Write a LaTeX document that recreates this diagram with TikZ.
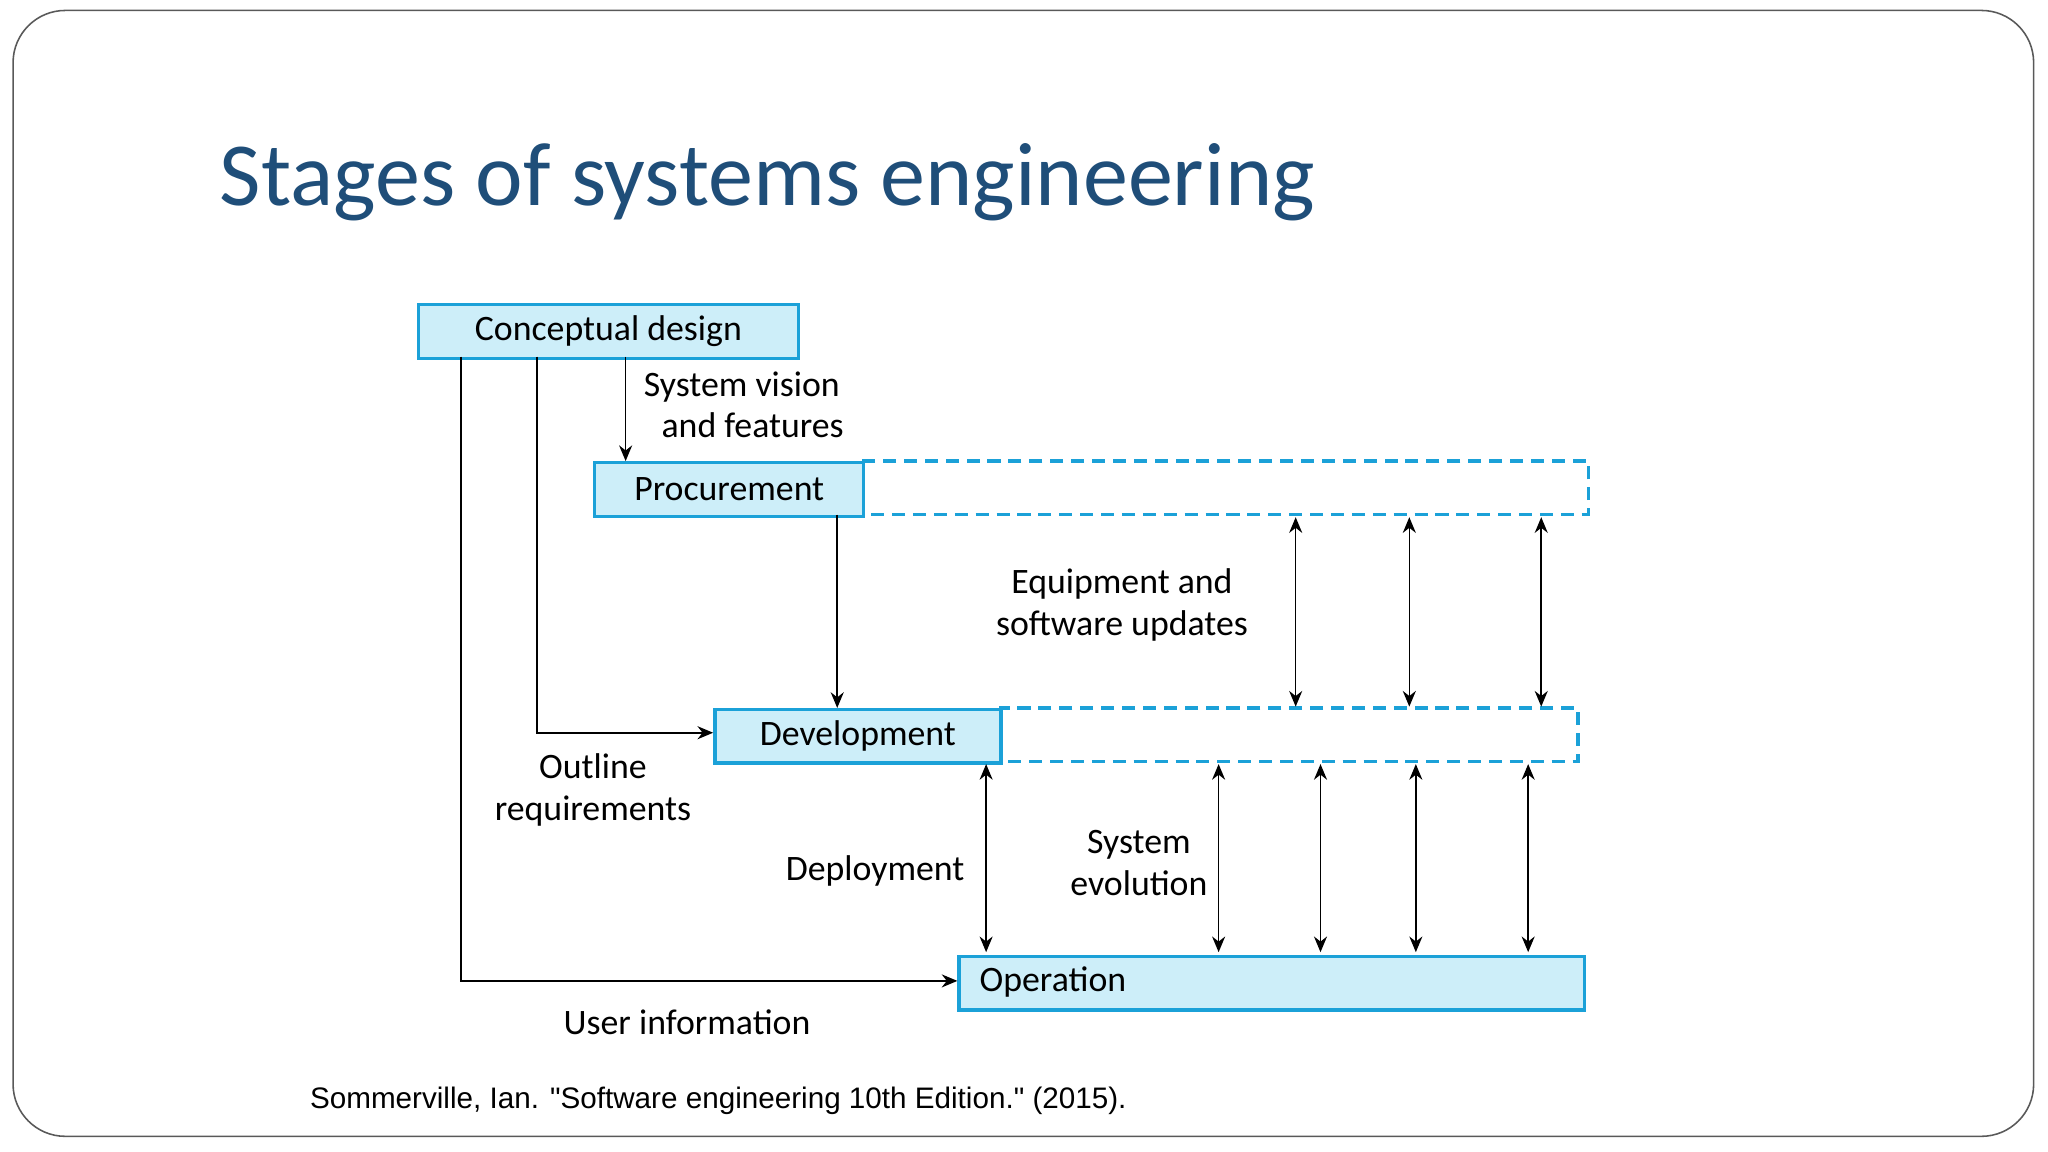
\documentclass[tikz,border=0pt]{standalone}
\usepackage{fontspec}
\setmainfont{Carlito}
\newfontfamily\arialf{Liberation Sans}
\usetikzlibrary{arrows.meta}
\definecolor{boxfill}{HTML}{CDEEF9}
\definecolor{boxline}{HTML}{1BA1D8}
\definecolor{titleblue}{HTML}{1F4E79}
\begin{document}
\begin{tikzpicture}[x=0.5pt,y=-0.5pt,
  stage/.style={draw=boxline,fill=boxfill,line width=1.3pt,inner sep=0},
  ext/.style={draw=boxline,line width=1.3pt,dash pattern=on 5pt off 3pt},
  lbl/.style={font=\fontsize{13.7}{16}\selectfont,align=center},
  arr/.style={-{Stealth[length=6pt,width=5pt]},line width=0.6pt},
  darr/.style={{Stealth[length=6pt,width=5pt]}-{Stealth[length=6pt,width=5pt]},line width=0.6pt}]
\useasboundingbox (0,0) rectangle (1568,882);
\draw[gray!70!black,line width=0.6pt,rounded corners=20pt] (10,8) rectangle (1557,870);
\node[anchor=base west,text=titleblue,font=\fontsize{34.5}{38}\selectfont,inner sep=0] (title) at (168,157) {Stages of systems engineering};
% boxes
\draw[ext] (660,353) rectangle (1216,394);
\draw[ext] (765,542) rectangle (1208,583);
\node[stage,minimum width=145.5pt,minimum height=20.5pt,anchor=north west] (cd) at (319,232) {};
\node[lbl] at (cd.center) {Conceptual design};
\node[stage,minimum width=103pt,minimum height=20.5pt,anchor=north west] (pr) at (454,353) {};
\node[lbl] at (pr.center) {Procurement};
\node[stage,minimum width=109.5pt,minimum height=20.5pt,anchor=north west] (dv) at (546,542) {};
\node[lbl] at (dv.center) {Development};
\node[stage,minimum width=239.5pt,minimum height=20.5pt,anchor=north west] (op) at (733,731) {};
\node[lbl,anchor=west] at (743,751.5) {Operation};
% coordinates
\coordinate (c1) at (479,273); \coordinate (p1) at (479,353);
\coordinate (c2) at (411,273); \coordinate (k2) at (411,561); \coordinate (d2) at (546,561);
\coordinate (c3) at (353,273); \coordinate (k3) at (353,751); \coordinate (o3) at (733,751);
\coordinate (p4) at (641,394); \coordinate (d4) at (641,542);
\draw[arr] (c1) -- (p1);
\draw[arr] (c2) -- (k2) -- (d2);
\draw[arr] (c3) -- (k3) -- (o3);
\draw[arr] (p4) -- (d4);
\foreach \x in {992,1079,1180} \draw[darr] (\x,396) -- (\x,541);
\foreach \x in {755,933,1011,1084,1170} \draw[darr] (\x,585) -- (\x,729);
% labels
\node[lbl] (l1) at (568,310) {System vision\\\hspace*{0.6em}and features};
\node[lbl] (l2) at (859,463) {Equipment and\\software updates};
\node[lbl] (l3) at (454,605) {Outline\\requirements};
\node[lbl] (l4) at (670,667) {Deployment};
\node[lbl] (l5) at (872,661) {System\\evolution};
\node[lbl] (l6) at (526,783) {User information};
\node[anchor=base west,inner sep=0,font=\arialf\fontsize{11.35}{13}\selectfont] (cite) at (237,849) {Sommerville, Ian. "Software engineering 10th Edition." (2015).};
\end{tikzpicture}
\end{document}
